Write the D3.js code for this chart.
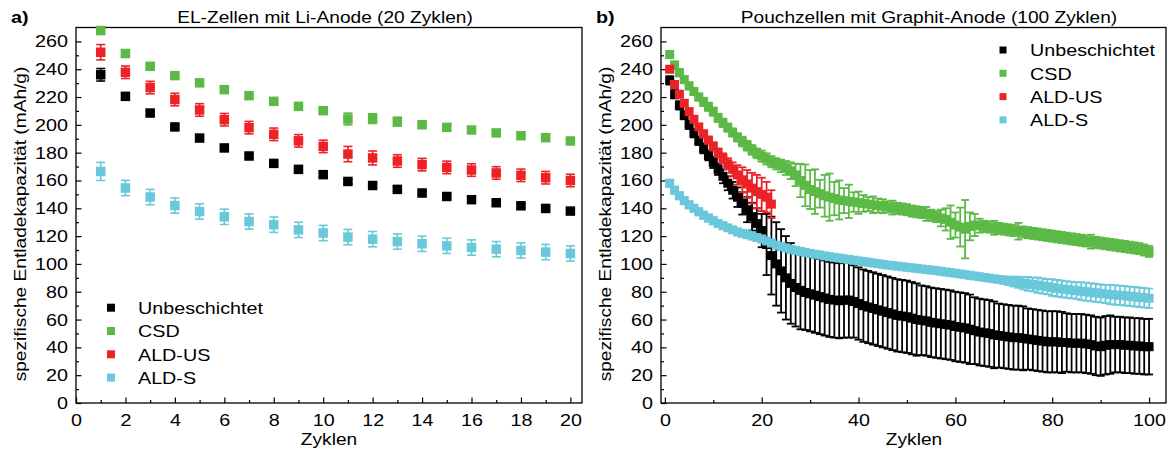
<!DOCTYPE html>
<html>
<head>
<meta charset="utf-8">
<script src="https://cdn.jsdelivr.net/npm/d3@7"></script>
<style>
  body { margin: 0; background: #fff; }
  svg { display: block; }
  text { font-family: "Liberation Sans", Arial, Helvetica, sans-serif; fill: #000; }
</style>
</head>
<body>
<svg id="chart" width="1171" height="453"></svg>
<script>
// ---- series meta ----
const seriesNames  = ["Unbeschichtet", "CSD", "ALD-US", "ALD-S"];
const seriesColors = ["#000000", "#5cb946", "#ec2227", "#69c8da"];

// ---- panel a: EL cells with Li anode, 20 cycles ----
const cyclesA     = [1,2,3,4,5,6,7,8,9,10,11,12,13,14,15,16,17,18,19,20];
const unbeschA    = [236,220.5,208.5,198.5,190.5,183.4,177.6,172.3,168,164.2,159.3,156.4,153.6,151,148.5,146.2,144,141.8,139.9,138];
const unbeschAErr = [4.5,2,1.5,1.5,1.5,1.5,1.5,1.5,1.5,1.5,1.5,1.5,1.5,1.5,1.5,1.5,1.5,1.5,1.5,1.5];
const csdA        = [267.8,251.3,242.1,235.4,230.2,225.3,221,216.9,213.3,210.2,204.2,204.5,202.3,200.1,198.2,196.3,194.2,192.2,190.8,188.4];
const csdAErr     = [1.5,1.5,1.5,1.5,1.5,1.5,1.5,1.5,1.5,1.5,4.2,3.5,3.2,2.5,2.5,2,2,2,2,2];
const aldUsA      = [252.2,237.8,226.8,218.2,210.7,203.7,198,193.2,188.5,184.5,179,176.2,174,171.4,169.4,167.5,165.4,163.7,162,160];
const aldUsAErr   = [5.5,4.5,4.5,4.5,4.5,4.5,4.5,4.5,4.5,4.5,5.5,5,4.5,4.5,4.5,4.5,4.5,4.5,4.5,4.5];
const aldSA       = [166.5,154.6,148.1,142,137.7,133.9,130.5,128.2,124.5,122.2,119.3,117.8,116.1,114.5,113,111.8,110.6,109.7,108.5,107.5];
const aldSAErr    = [6.5,5.5,5.5,5.5,5.5,5.5,5.5,5.5,5.5,5.5,5.5,5.5,5.5,5.5,5.5,5.5,5.5,5.5,5.5,5.5];

// ---- panel b: pouch cells with graphite anode, 100 cycles ----
const unbeschB = [
  232,222,214,207,200,194,188.5,183,178,173,
  168,163,158,153,148,143.5,139,134,129,124,
  114,106,100,95,90,86,83,81,79.5,78.5,
  77.5,76.5,75.5,74.5,74,73.5,74,74,73,71.5,
  70,69,68,67,66,65,64,63,62.5,62,
  61,60,59.5,59,58,57.5,57,56.5,56,55,
  54.5,54,53,52,51,50.5,50,49,48.5,48,
  47.5,47,47,46.5,46,45.5,45,44.5,44,44,
  44,43.5,43.5,43,43,43,42.5,42,41,40.5,
  41.5,42,42,42,41.5,41.5,41,41,40.5,40.5];
const unbeschBErr = [
  3,3,3,3,3,3,3,3.5,3.5,4,
  4,5,5,6,7,8,9,10,11,12,
  22,28,30,30,30,29,28,28,27,27,
  27,27,27,27,27,27,27,27,26,26,
  26,26,26,26,26,26,26,26,26,26,
  26,26,25,25,25,25,25,25,25,25,
  25,25,25,24,24,24,24,24,23,23,
  23,23,23,23,22,22,22,22,22,22,
  22,22,21,21,21,21,21,21,21,21,
  21,21,20,20,20,20,20,20,20,20];
const csdB = [
  250.5,243,237.5,232.5,228,224,220,216.5,213,209.5,
  205,201.5,198,194.5,191,188,185,182,179.5,177.5,
  175.5,173.5,172,170.5,169,167,164,160,156.5,153.5,
  152,150.5,149,148,147,146,145.5,145,144.5,144,
  143.5,143,142.5,142,141.5,141,140.5,140,139.5,139,
  138,137.5,137,136,135,134,133,132,130,128,
  126.5,125,127,128,127.5,127,126.5,126,125.5,125,
  124.5,124,123.5,123,122.5,122,121.5,121,120.5,120,
  119.5,119,118.5,118,117.5,117,116.5,116,115.5,115,
  114.5,114,113.5,113,112.5,112,111.5,111,110,109];
const csdBErr = [
  2.5,2.5,2.5,2.5,2.5,2.5,2.5,3,3,3,
  3,3,3,3,3,3.5,3.5,3.5,3.5,4,
  4,4,4,4.5,5,6,8,12,15,14,
  16,10,15,17,12,14,9,12,7,8,
  6,5,6,5,5,4,5,4,4,4,
  4,4,4,5,4,4,6,8,12,9,
  14,21,10,8,5,4,4,5,4,4,
  4,4,6,4,4,4,4,4,4,4,
  4,4,4,4,4,4,4,5,4,4,
  4,4,4,4,4,4,4,4,4,4];
const aldUsB    = [240,229,222,215.5,209.5,204,198.5,193.5,189,184.5,180,176,172,168,164,160.5,157.5,154.5,152,150,148,143];
const aldUsBErr = [2,2,2,2,2,2,2,2.5,2.5,3,3,3.5,4,5,7,9,10,11,12,12,11,10];
const aldSB = [
  158,153,149,145.5,142.5,140,137.5,135,133,131,
  129,127.5,126,124.5,123,122,121,120,119,118,
  116.5,115,113.5,112.5,111.5,110.5,109.7,109,108.3,107.6,
  107,106.4,105.8,105.2,104.7,104.2,103.7,103.2,102.7,102.2,
  101.7,101.2,100.7,100.2,99.7,99.2,98.8,98.4,98,97.6,
  97.2,96.8,96.4,96,95.6,95.2,94.7,94.2,93.8,93.3,
  92.8,92.3,91.8,91.3,90.8,90.3,89.8,89.3,88.8,88.3,
  87.8,87.3,86.8,86.2,85.7,85.2,84.7,84.1,83.6,83,
  82.5,82,81.6,81.2,80.8,80.4,80,79.6,79.2,78.8,
  78.4,78,77.7,77.4,77.1,76.7,76.4,76,75.7,75.3];
const aldSBErr = [
  2.5,2.5,2.5,2.5,2.5,2.5,2.5,2.5,2.5,2.5,
  2,2,2,2,2,2,2,2,2,2,
  2,2,2,2,2,2,2,2,2,2,
  2,2,2,2,2,2,2,2,2,2,
  2,2,2,2,2,2,2,2,2,2,
  2,2,2,2,2,2,2,2,2,2,
  2,2,2,2,2,2,2,2,2.5,2.5,
  3,3.5,4,4.5,5,5,5.5,5.5,5.5,6,
  6,6,6,6,6,6.5,6.5,6.5,6.5,6.5,
  6.5,7,7,7,7,7,7,7,7,7];

// ---- axis ticks ----
const yMajorTicks  = [0,20,40,60,80,100,120,140,160,180,200,220,240,260];
const yMinorTicks  = [10,30,50,70,90,110,130,150,170,190,210,230,250];
const xMajorTicksA = [0,2,4,6,8,10,12,14,16,18,20];
const xMinorTicksA = [1,3,5,7,9,11,13,15,17,19];
const xMajorTicksB = [0,20,40,60,80,100];
const xMinorTicksB = [10,30,50,70,90];

// ---- texts ----
const yAxisTitle = "spezifische Entladekapazität (mAh/g)";
const xAxisTitle = "Zyklen";

const SX = 1.16;          // horizontal glyph stretch used throughout
const svg = d3.select("#chart");
const plotTop = 27.5, plotBottom = 403;

function addText(g, x, y, str, size, anchor, opts = {}) {
  const rot = opts.rotate ? " rotate(-90)" : "";
  return g.append("text")
    .attr("transform", `translate(${x},${y})${rot} scale(${SX},1)`)
    .attr("text-anchor", anchor)
    .attr("font-size", size)
    .attr("font-weight", opts.bold ? "bold" : null)
    .text(str);
}

function drawPanel(cfg) {
  const g = svg.append("g");
  const x = d3.scaleLinear().domain(cfg.xDomain).range([cfg.left, cfg.right]);
  const y = d3.scaleLinear().domain([0, 270]).range([plotBottom, plotTop]);

  // minor + major ticks, pointing inward
  const styleAxis = sel => {
    sel.select(".domain").remove();
    sel.attr("font-family", null).attr("font-size", null);
    sel.selectAll("line").attr("stroke", "#000").attr("stroke-width", 1.2);
  };
  g.append("g").attr("transform", `translate(0,${plotBottom})`)
    .call(d3.axisBottom(x).tickValues(cfg.xMinor).tickSize(-3).tickFormat(""))
    .call(styleAxis);
  g.append("g").attr("transform", `translate(${cfg.left},0)`)
    .call(d3.axisLeft(y).tickValues(yMinorTicks).tickSize(-3).tickFormat(""))
    .call(styleAxis);
  const xa = g.append("g").attr("transform", `translate(0,${plotBottom})`)
    .call(d3.axisBottom(x).tickValues(cfg.xMajor).tickSize(-5.5).tickPadding(11).tickFormat(d3.format("d")))
    .call(styleAxis);
  xa.selectAll("text").attr("font-size", 17).attr("transform", `scale(${SX},1)`);
  const ya = g.append("g").attr("transform", `translate(${cfg.left},0)`)
    .call(d3.axisLeft(y).tickValues(yMajorTicks).tickSize(-5.5).tickPadding(7).tickFormat(d3.format("d")))
    .call(styleAxis);
  ya.selectAll("text").attr("font-size", 17).attr("transform", `scale(${SX},1)`);

  // frame
  g.append("rect")
    .attr("x", cfg.left).attr("y", plotTop)
    .attr("width", cfg.right - cfg.left).attr("height", plotBottom - plotTop)
    .attr("fill", "none").attr("stroke", "#000").attr("stroke-width", 1.3);

  // series: error bars + square markers
  cfg.series.forEach(s => {
    const pts = s.values.map((v, i) => ({ c: s.cycles[i], v, e: s.errors[i] }));
    const sg = g.append("g").attr("stroke", s.color).attr("fill", s.color);
    const eb = sg.selectAll("g.eb").data(pts).join("g").attr("class", "eb");
    eb.append("line")
      .attr("x1", d => x(d.c)).attr("x2", d => x(d.c))
      .attr("y1", d => y(d.v - d.e)).attr("y2", d => y(d.v + d.e))
      .attr("stroke-width", cfg.ebWidth);
    eb.append("line")
      .attr("x1", d => x(d.c) - cfg.cap / 2).attr("x2", d => x(d.c) + cfg.cap / 2)
      .attr("y1", d => y(d.v + d.e)).attr("y2", d => y(d.v + d.e))
      .attr("stroke-width", cfg.ebWidth);
    eb.append("line")
      .attr("x1", d => x(d.c) - cfg.cap / 2).attr("x2", d => x(d.c) + cfg.cap / 2)
      .attr("y1", d => y(d.v - d.e)).attr("y2", d => y(d.v - d.e))
      .attr("stroke-width", cfg.ebWidth);
    sg.selectAll("rect.m").data(pts).join("rect").attr("class", "m")
      .attr("stroke", "none")
      .attr("x", d => x(d.c) - cfg.marker / 2).attr("y", d => y(d.v) - cfg.marker / 2)
      .attr("width", cfg.marker).attr("height", cfg.marker);
  });

  // legend
  const lg = g.append("g");
  seriesNames.forEach((name, i) => {
    const cy = cfg.legend.y + i * cfg.legend.dy;
    lg.append("rect")
      .attr("x", cfg.legend.mx - cfg.legend.ms / 2).attr("y", cy - cfg.legend.ms / 2)
      .attr("width", cfg.legend.ms).attr("height", cfg.legend.ms)
      .attr("fill", seriesColors[i]);
    addText(lg, cfg.legend.tx, cy + 6.3, name, 17, "start");
  });

  // titles and axis labels
  addText(g, cfg.tagX, 23, cfg.tag, 17, "start", { bold: true });
  addText(g, cfg.titleX, 22.5, cfg.title, 16.5, "middle");
  addText(g, cfg.xTitleX, 445, xAxisTitle, 16.5, "middle");
  addText(g, cfg.yTitleX, 224, yAxisTitle, 16.5, "middle", { rotate: true });
}

const cyclesB = unbeschB.map((_, i) => i + 1);

drawPanel({
  left: 76, right: 582, xDomain: [0, 20.47],
  xMajor: xMajorTicksA, xMinor: xMinorTicksA,
  marker: 9.5, cap: 9, ebWidth: 1.6,
  series: [
    { color: seriesColors[0], cycles: cyclesA, values: unbeschA, errors: unbeschAErr },
    { color: seriesColors[1], cycles: cyclesA, values: csdA,     errors: csdAErr },
    { color: seriesColors[2], cycles: cyclesA, values: aldUsA,   errors: aldUsAErr },
    { color: seriesColors[3], cycles: cyclesA, values: aldSA,    errors: aldSAErr }
  ],
  legend: { mx: 111, ms: 8, tx: 138, y: 307.7, dy: 23.3 },
  tag: "a)", tagX: 11, title: "EL-Zellen mit Li-Anode (20 Zyklen)", titleX: 325,
  xTitleX: 329, yTitleX: 25.5
});

drawPanel({
  left: 661, right: 1166, xDomain: [-0.8, 103.5],
  xMajor: xMajorTicksB, xMinor: xMinorTicksB,
  marker: 9, cap: 8, ebWidth: 1.8,
  series: [
    { color: seriesColors[0], cycles: cyclesB, values: unbeschB, errors: unbeschBErr },
    { color: seriesColors[1], cycles: cyclesB, values: csdB,     errors: csdBErr },
    { color: seriesColors[2], cycles: cyclesB.slice(0, aldUsB.length), values: aldUsB, errors: aldUsBErr },
    { color: seriesColors[3], cycles: cyclesB, values: aldSB,    errors: aldSBErr }
  ],
  legend: { mx: 1003, ms: 7, tx: 1030, y: 50, dy: 23.3 },
  tag: "b)", tagX: 596, title: "Pouchzellen mit Graphit-Anode (100 Zyklen)", titleX: 929,
  xTitleX: 914, yTitleX: 610.5
});
</script>
</body>
</html>
